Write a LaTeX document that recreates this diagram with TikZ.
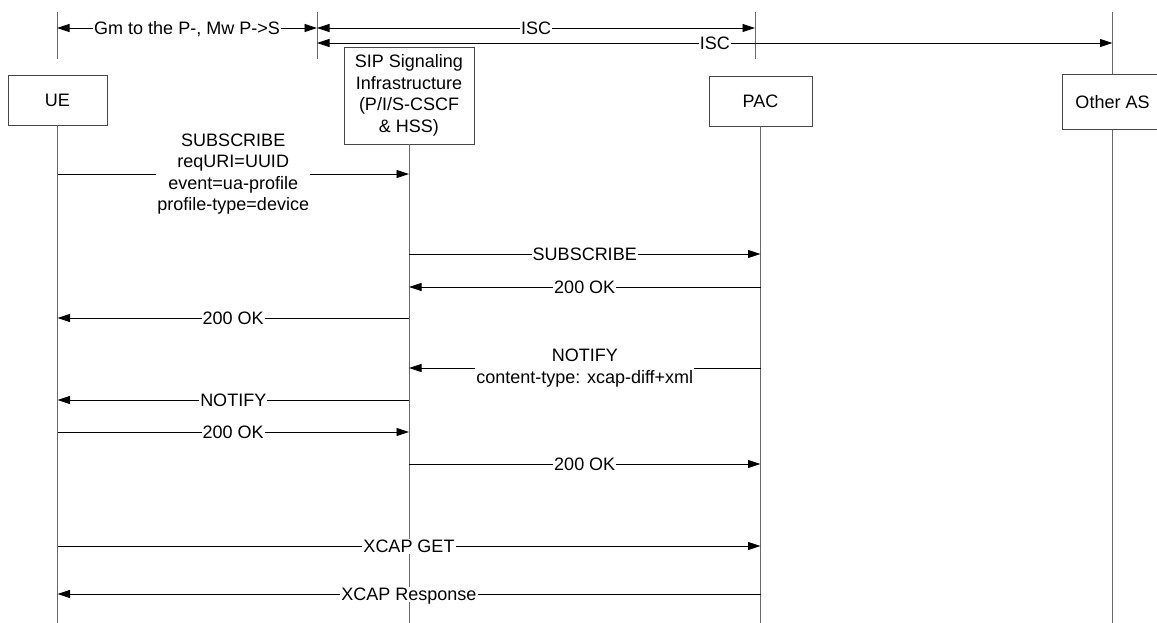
\documentclass[tikz,border=0pt]{standalone}
\usepackage{fontspec}
\setmainfont{Liberation Sans}
\usetikzlibrary{arrows.meta}
\definecolor{boxgray}{RGB}{70,70,70}
\definecolor{lifegray}{RGB}{105,105,105}
\begin{document}
\begin{tikzpicture}[x=1pt,y=-1pt,
  every node/.style={font=\fontsize{18}{21.5}\selectfont},
  entity/.style={draw=boxgray, fill=white, line width=0.8pt, minimum height=50pt, inner sep=0pt},
  life/.style={draw=lifegray, line width=0.9pt},
  msg/.style={draw=black, line width=0.8pt, -{Triangle[length=12.5pt,width=8pt]}},
  dmsg/.style={draw=black, line width=0.8pt, {Triangle[length=12.5pt,width=8pt]}-{Triangle[length=12.5pt,width=8pt]}},
  lbl/.style={fill=white, inner xsep=1pt, inner ysep=1pt, text height=13pt, text depth=0pt},
  mlbl/.style={fill=white, inner xsep=1pt, inner ysep=1pt, align=center}]
\useasboundingbox (0,0) rectangle (1157,623);
\clip (0,0) rectangle (1157,623);

% header ticks
\coordinate (t1a) at (57,12);  \coordinate (t1b) at (57,59);
\coordinate (t2a) at (317,12); \coordinate (t2b) at (317,59);
\coordinate (t3a) at (755,12); \coordinate (t3b) at (755,59);
\coordinate (t4a) at (1112.5,12);
\draw[life] (t1a) -- (t1b);
\draw[life] (t2a) -- (t2b);
\draw[life] (t3a) -- (t3b);

% entities
\node[entity, minimum width=99pt] (ue) at (57.5,100) {UE};
\node[entity, minimum width=103pt] (pac) at (760.5,101) {PAC};
\node[entity, minimum width=101pt, minimum height=55pt] (oas) at (1112.5,102) {Other AS};
\node[entity, minimum width=130pt, minimum height=97pt, align=center] (sip) at (409,95.5)
  {SIP Signaling\\Infrastructure\\(P/I/S-CSCF\\\& HSS)};

\draw[life] (t4a) -- (oas.north);

% lifeline ends
\coordinate (ueend) at (57.5,623);
\coordinate (sipend) at (409,623);
\coordinate (pacend) at (760.5,623);
\coordinate (oasend) at (1112.5,623);
\draw[life] (ue.south) -- (ueend);
\draw[life] (sip.south) -- (sipend);
\draw[life] (pac.south) -- (pacend);
\draw[life] (oas.south) -- (oasend);

% header arrows
\coordinate (g1) at (57,28);  \coordinate (g2) at (317,28);
\coordinate (i1a) at (317,28); \coordinate (i1b) at (755,28);
\coordinate (i2a) at (317,43); \coordinate (i2b) at (1112.5,43);
\draw[dmsg] (g1) -- node[lbl]{Gm to the P-, Mw P->S} (g2);
\draw[dmsg] (i1a) -- node[lbl]{ISC} (i1b);
\draw[dmsg] (i2a) -- node[lbl]{ISC} (i2b);

% message anchor points
\foreach \yy in {174,318,400,432,546,594}{\coordinate (ue\yy) at (57.5,\yy);}
\foreach \yy in {174,254,287,318,368,400,432,464}{\coordinate (sip\yy) at (409,\yy);}
\foreach \yy in {254,287,368,464,546,594}{\coordinate (pac\yy) at (760.5,\yy);}

% messages
\draw[msg] (ue174) -- node[mlbl]{SUBSCRIBE\\reqURI=UUID\\event=ua-profile\\profile-type=device} (sip174);
\draw[msg] (sip254) -- node[lbl]{SUBSCRIBE} (pac254);
\draw[msg] (pac287) -- node[lbl]{200 OK} (sip287);
\draw[msg] (sip318) -- node[lbl]{200 OK} (ue318);
\draw[msg] (pac368) -- node[mlbl]{NOTIFY\\content-type: xcap-diff+xml} (sip368);
\draw[msg] (sip400) -- node[lbl]{NOTIFY} (ue400);
\draw[msg] (ue432) -- node[lbl]{200 OK} (sip432);
\draw[msg] (sip464) -- node[lbl]{200 OK} (pac464);
\draw[msg] (ue546) -- node[lbl]{XCAP GET} (pac546);
\draw[msg] (pac594) -- node[lbl]{XCAP Response} (ue594);
\end{tikzpicture}
\end{document}
